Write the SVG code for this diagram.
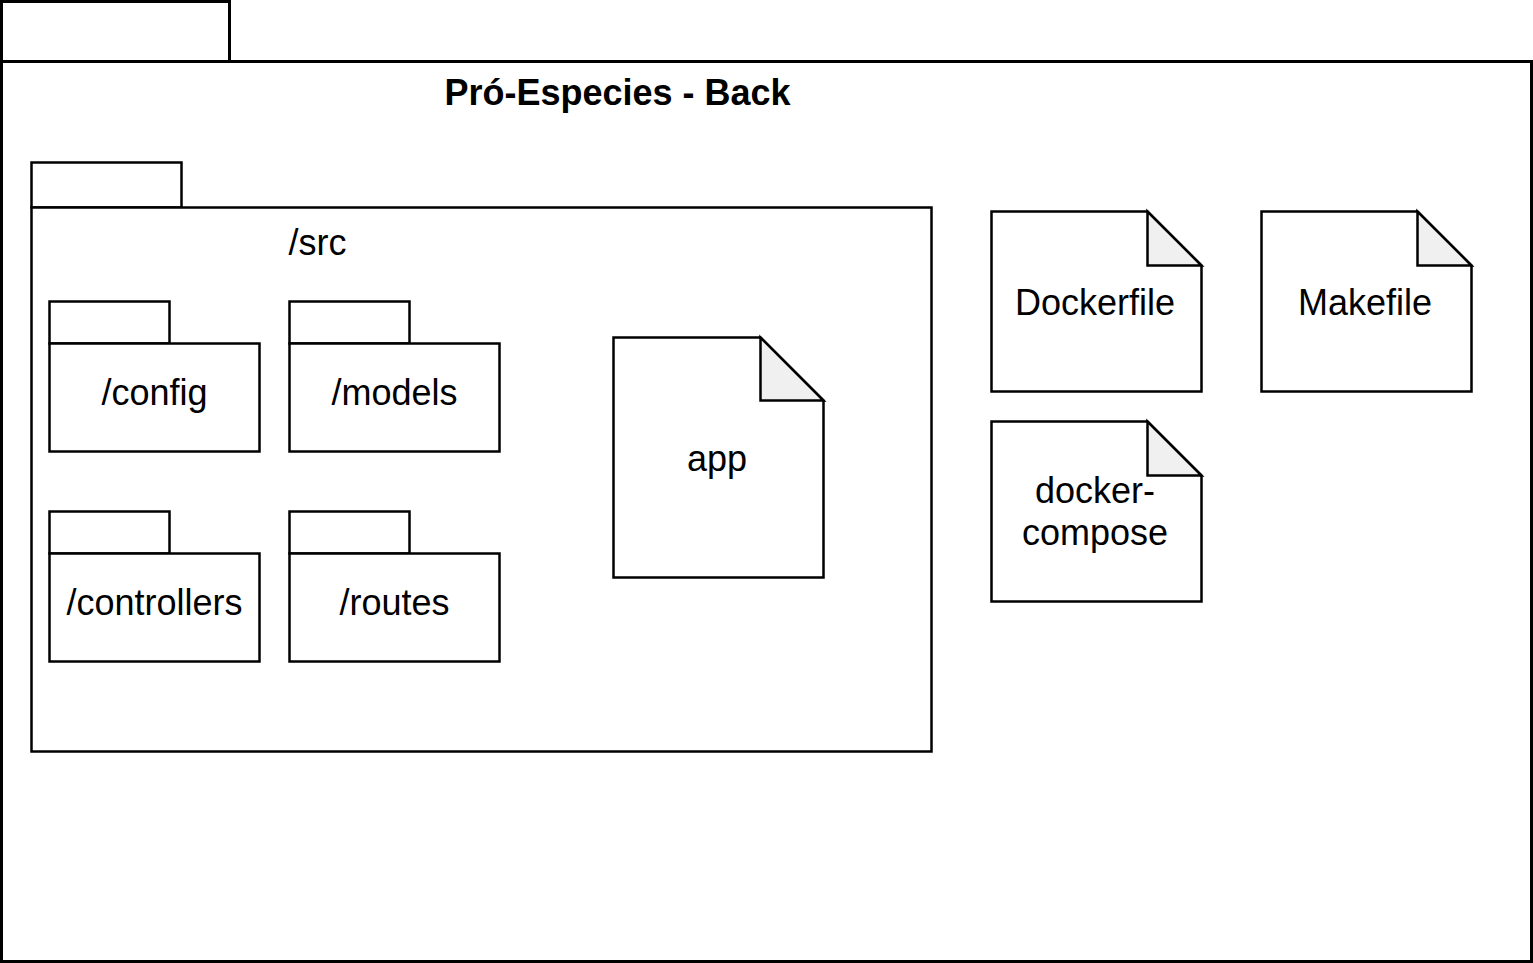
<svg xmlns="http://www.w3.org/2000/svg" width="1533" height="963" viewBox="0 0 1533 963">
<style>
.s{fill:#fff;stroke:#000;stroke-width:3}
.i{fill:#fff;stroke:#000;stroke-width:2.5}
.f{fill:#f0f0f0;stroke:#000;stroke-width:2.5;stroke-linejoin:miter}
text{font-family:"Liberation Sans",Arial,sans-serif;font-size:36px;text-anchor:middle;fill:#000}
.b{font-weight:bold}
</style>
<rect width="1533" height="963" fill="#fff"/>
<g id="pro-especies-back">
<rect class="s" x="1.5" y="1.5" width="228" height="60"/>
<rect class="s" x="1.5" y="61.5" width="1530" height="900"/>
<text class="b" x="617.5" y="105">Pró-Especies - Back</text>
</g>
<g id="src">
<rect class="i" x="31.5" y="162.5" width="150" height="45"/>
<rect class="i" x="31.5" y="207.5" width="900" height="544"/>
<text x="317.5" y="255">/src</text>
</g>
<g id="config">
<rect class="i" x="49.5" y="301.5" width="120" height="42"/>
<rect class="i" x="49.5" y="343.5" width="210" height="108"/>
<text x="154.5" y="405">/config</text>
</g>
<g id="models">
<rect class="i" x="289.5" y="301.5" width="120" height="42"/>
<rect class="i" x="289.5" y="343.5" width="210" height="108"/>
<text x="394.5" y="405">/models</text>
</g>
<g id="controllers">
<rect class="i" x="49.5" y="511.5" width="120" height="42"/>
<rect class="i" x="49.5" y="553.5" width="210" height="108"/>
<text x="154.5" y="615">/controllers</text>
</g>
<g id="routes">
<rect class="i" x="289.5" y="511.5" width="120" height="42"/>
<rect class="i" x="289.5" y="553.5" width="210" height="108"/>
<text x="394.5" y="615">/routes</text>
</g>
<g id="app">
<path class="i" d="M613.5 337.5H760.5L823.5 400.5V577.5H613.5Z"/>
<path class="f" d="M760.5 337.5V400.5H823.5Z"/>
<text x="717" y="471">app</text>
</g>
<g id="dockerfile">
<path class="i" d="M991.5 211.5H1147.5L1201.5 265.5V391.5H991.5Z"/>
<path class="f" d="M1147.5 211.5V265.5H1201.5Z"/>
<text x="1095" y="315">Dockerfile</text>
</g>
<g id="makefile">
<path class="i" d="M1261.5 211.5H1417.5L1471.5 265.5V391.5H1261.5Z"/>
<path class="f" d="M1417.5 211.5V265.5H1471.5Z"/>
<text x="1365" y="315">Makefile</text>
</g>
<g id="docker-compose">
<path class="i" d="M991.5 421.5H1147.5L1201.5 475.5V601.5H991.5Z"/>
<path class="f" d="M1147.5 421.5V475.5H1201.5Z"/>
<text x="1095" y="503">docker-</text>
<text x="1095" y="545">compose</text>
</g>
<g id="connectors"/>
</svg>
